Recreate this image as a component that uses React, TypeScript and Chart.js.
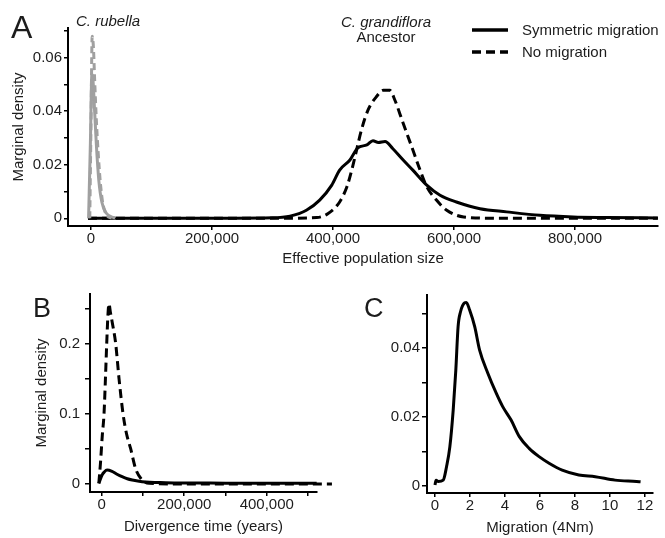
import React, { useEffect, useRef } from 'react';
import { Chart, registerables } from 'chart.js';

Chart.register(...registerables);

const FONT = '"Liberation Sans", Arial, Helvetica, sans-serif';
const INK = '#1c1c1c';
const GRAY = '#a0a0a0';

// ---------- Panel A : effective population size ----------
const rubellaSymX = [-4000, -1000, 1500, 3500, 6000, 9000, 13000, 18000, 25000, 40000];
const rubellaSymY = [0, 0.028, 0.054, 0.051, 0.04, 0.027, 0.014, 0.006, 0.002, 0];
const rubellaNoMigX = [-2000, 0, 2000, 4000, 6000, 9000, 12000, 16000, 20000, 26000, 34000];
const rubellaNoMigY = [0, 0.035, 0.068, 0.064, 0.052, 0.036, 0.024, 0.012, 0.005, 0.0012, 0];
const ancSymX = [-5000, 150000, 300000, 329000, 356000, 378000, 398000, 411000, 428000, 441000, 456000, 466000, 475000, 486000, 499000, 516000, 532000, 555000, 577000, 604000, 643000, 687000, 742000, 797000, 852000, 937000];
const ancSymY = [0, 0, 0.0002, 0.0008, 0.003, 0.0068, 0.0124, 0.018, 0.0218, 0.0263, 0.0274, 0.029, 0.0283, 0.0287, 0.026, 0.0218, 0.018, 0.0124, 0.0086, 0.0061, 0.0036, 0.0024, 0.0011, 0.0005, 0.0003, 0.0001];
const ancNoMigX = [-5000, 150000, 300000, 373000, 392000, 411000, 423000, 431000, 439000, 447000, 458000, 472000, 483000, 494000, 502000, 516000, 530000, 544000, 555000, 571000, 588000, 616000, 673000, 937000];
const ancNoMigY = [0, 0, 0, 0.0003, 0.0018, 0.0061, 0.0118, 0.018, 0.0255, 0.033, 0.0405, 0.0455, 0.0478, 0.0478, 0.0443, 0.0355, 0.0268, 0.018, 0.0118, 0.0068, 0.003, 0.0005, 0, 0];
const aXTicks = [0, 200000, 400000, 600000, 800000];
const aXLabels = ['0', '200,000', '400,000', '600,000', '800,000'];
const aYTicks = [0, 0.01, 0.02, 0.03, 0.04, 0.05, 0.06, 0.07];
const aYLabels = ['0', '', '0.02', '', '0.04', '', '0.06', ''];
const legendLabels = ['Symmetric migration', 'No migration'];

// ---------- Panel B : divergence time ----------
const divSymX = [-7000, 800, 6000, 13000, 25000, 37000, 49500, 62000, 74000, 98000, 155000, 300000, 521000];
const divSymY = [0.001, 0.0128, 0.017, 0.0199, 0.018, 0.014, 0.0104, 0.0075, 0.0057, 0.0033, 0.002, 0.0013, 0.001];
const divNoMigX = [-7000, -3000, 1500, 5600, 9000, 12100, 15000, 17700, 21000, 25000, 33900, 42000, 51700, 60000, 70300, 82000, 95000, 115000, 200000, 400000, 558000];
const divNoMigY = [0.001, 0.03, 0.07, 0.1, 0.15, 0.2, 0.24, 0.257, 0.245, 0.232, 0.2, 0.15, 0.1, 0.072, 0.05, 0.022, 0.008, 0.001, 0, 0, 0];
const bXTicks = [0, 100000, 200000, 300000, 400000, 500000];
const bXLabels = ['0', '', '200,000', '', '400,000', ''];
const bYTicks = [0, 0.05, 0.1, 0.15, 0.2, 0.25];
const bYLabels = ['0', '', '0.1', '', '0.2', ''];

// ---------- Panel C : migration ----------
const migX = [0, 0.06, 0.19, 0.47, 0.66, 0.85, 1.04, 1.19, 1.32, 1.46, 1.7, 1.79, 1.98, 2.27, 2.55, 3.02, 3.5, 3.87, 4.35, 4.82, 5.38, 5.95, 6.52, 7.27, 8.22, 9.16, 10.29, 11.52, 11.75];
const migY = [0.0003, 0.0017, 0.0013, 0.0017, 0.0056, 0.0114, 0.022, 0.0336, 0.0462, 0.0505, 0.0531, 0.0532, 0.051, 0.0462, 0.0394, 0.0327, 0.0269, 0.023, 0.0191, 0.0143, 0.0109, 0.0085, 0.0066, 0.0046, 0.0032, 0.0027, 0.0017, 0.0013, 0.0012];
const cXTicks = [0, 2, 4, 6, 8, 10, 12];
const cXLabels = ['0', '2', '4', '6', '8', '10', '12'];
const cYTicks = [0, 0.01, 0.02, 0.03, 0.04, 0.05];
const cYLabels = ['0', '', '0.02', '', '0.04', ''];

const DASH = [9, 5];

function series(xs: number[], ys: number[], color: string, dash: number[], extra: any = {}) {
  return {
    data: xs.map((x, i) => ({ x, y: ys[i] })),
    borderColor: color,
    backgroundColor: color,
    borderWidth: 3,
    borderDash: dash,
    borderCapStyle: 'butt',
    borderJoinStyle: 'round',
    pointRadius: 0,
    pointHoverRadius: 0,
    fill: false,
    cubicInterpolationMode: 'monotone',
    ...extra,
  };
}

type AxisSpec = {
  axis: 'x' | 'y';
  min: number;
  max: number;
  ticks: number[];
  labels: string[];
  size: number;
  tickLength: number;
  tickPad: number;
  title?: string;
  titlePad?: any;
};

function axis(s: AxisSpec) {
  return {
    type: 'linear',
    position: s.axis === 'x' ? 'bottom' : 'left',
    min: s.min,
    max: s.max,
    afterBuildTicks: (sc: any) => {
      sc.ticks = s.ticks.map((v) => ({ value: v }));
    },
    afterFit: (sc: any) => {
      if (s.axis === 'x') sc.height = s.size;
      else sc.width = s.size;
    },
    grid: {
      display: true,
      drawOnChartArea: false,
      drawTicks: true,
      tickLength: s.tickLength,
      tickWidth: 1.5,
      tickColor: '#000',
      color: '#000',
      lineWidth: 1.5,
    },
    border: { display: true, color: '#000', width: 2 },
    ticks: {
      autoSkip: false,
      maxRotation: 0,
      minRotation: 0,
      padding: s.tickPad,
      color: INK,
      font: { family: FONT, size: 15, lineHeight: 1.2 },
      callback: (_v: any, i: number) => s.labels[i] ?? '',
    },
    title: s.title
      ? { display: true, text: s.title, color: INK, font: { family: FONT, size: 15, lineHeight: 1.2 }, padding: s.titlePad }
      : { display: false },
  };
}

function baseOptions(padding: any, x: any, y: any) {
  return {
    responsive: false,
    maintainAspectRatio: false,
    animation: false,
    devicePixelRatio: 1,
    layout: { padding },
    plugins: { legend: { display: false }, tooltip: { enabled: false } },
    events: [],
    scales: { x, y },
  };
}

const annotA = {
  id: 'annotA',
  afterDraw(chart: any) {
    const ctx = chart.ctx;
    ctx.save();
    ctx.fillStyle = INK;
    ctx.textBaseline = 'alphabetic';
    ctx.textAlign = 'left';
    ctx.font = `32px ${FONT}`;
    ctx.fillText('A', 11, 38);
    ctx.font = `italic 15px ${FONT}`;
    ctx.fillText('C. rubella', 76, 25.5);
    ctx.textAlign = 'center';
    ctx.fillText('C. grandiflora', 386, 26.5);
    ctx.font = `15px ${FONT}`;
    ctx.fillText('Ancestor', 386, 42);
    // legend
    const ds = chart.data.datasets.filter((d: any) => d.legendIndex !== undefined);
    ds.sort((a: any, b: any) => a.legendIndex - b.legendIndex);
    ds.forEach((d: any, i: number) => {
      const yy = 30 + i * 22;
      ctx.beginPath();
      ctx.lineWidth = 3.5;
      ctx.strokeStyle = d.borderColor;
      ctx.setLineDash(d.borderDash || []);
      ctx.moveTo(472, yy);
      ctx.lineTo(508, yy);
      ctx.stroke();
      ctx.setLineDash([]);
      ctx.textAlign = 'left';
      ctx.textBaseline = 'middle';
      ctx.fillStyle = INK;
      ctx.font = `15px ${FONT}`;
      ctx.fillText(legendLabels[d.legendIndex], 522, yy + 0.5);
    });
    ctx.restore();
  },
};

function letterPlugin(letter: string, x: number, y: number) {
  return {
    id: 'letter' + letter,
    afterDraw(chart: any) {
      const ctx = chart.ctx;
      ctx.save();
      ctx.fillStyle = INK;
      ctx.textBaseline = 'alphabetic';
      ctx.textAlign = 'left';
      ctx.font = `27px ${FONT}`;
      ctx.fillText(letter, x, y);
      ctx.restore();
    },
  };
}

function configA(): any {
  return {
    type: 'line',
    data: {
      datasets: [
        series(rubellaNoMigX, rubellaNoMigY, GRAY, [7, 4]),
        series(rubellaSymX, rubellaSymY, GRAY, []),
        series(ancSymX, ancSymY, '#000', [], { legendIndex: 0 }),
        series(ancNoMigX, ancNoMigY, '#000', DASH, { legendIndex: 1 }),
      ],
    },
    options: baseOptions(
      { left: 0, right: 7, top: 28, bottom: 0 },
      axis({ axis: 'x', min: -38000, max: 937200, ticks: aXTicks, labels: aXLabels, size: 54, tickLength: 4, tickPad: 0, title: 'Effective population size', titlePad: { top: 0, bottom: 12 } }),
      axis({ axis: 'y', min: -0.00288, max: 0.0711, ticks: aYTicks, labels: aYLabels, size: 68, tickLength: 4, tickPad: 2, title: 'Marginal density', titlePad: { top: 10, bottom: 0 } })
    ),
    plugins: [annotA],
  };
}

function configB(): any {
  return {
    type: 'line',
    data: {
      datasets: [
        series(divSymX, divSymY, '#000', []),
        series(divNoMigX, divNoMigY, '#000', DASH, { clip: false }),
      ],
    },
    options: baseOptions(
      { left: 0, right: 23, top: 13, bottom: 0 },
      axis({ axis: 'x', min: -28400, max: 521800, ticks: bXTicks, labels: bXLabels, size: 46, tickLength: 4, tickPad: 0, title: 'Divergence time (years)', titlePad: { top: 0, bottom: 2 } }),
      axis({ axis: 'y', min: -0.01135, max: 0.2709, ticks: bYTicks, labels: bYLabels, size: 90, tickLength: 5, tickPad: 5, title: 'Marginal density', titlePad: { top: 32.5, bottom: 0 } })
    ),
    plugins: [letterPlugin('B', 33, 37)],
  };
}

function configC(): any {
  return {
    type: 'line',
    data: {
      datasets: [series(migX, migY, '#000', [])],
    },
    options: baseOptions(
      { left: 0, right: 12, top: 15, bottom: 0 },
      axis({ axis: 'x', min: -0.457, max: 12.46, ticks: cXTicks, labels: cXLabels, size: 45, tickLength: 4, tickPad: 0, title: 'Migration (4Nm)', titlePad: { top: 0, bottom: 1 } }),
      axis({ axis: 'y', min: -0.00203, max: 0.05536, ticks: cYTicks, labels: cYLabels, size: 87, tickLength: 5, tickPad: 2 })
    ),
    plugins: [letterPlugin('C', 24, 37)],
  };
}

function ChartCanvas(props: { make: () => any; left: number; top: number; width: number; height: number }) {
  const ref = useRef<HTMLCanvasElement | null>(null);
  useEffect(() => {
    if (!ref.current) return;
    const chart = new Chart(ref.current, props.make());
    return () => chart.destroy();
  }, []);
  return (
    <canvas
      ref={ref}
      width={props.width}
      height={props.height}
      style={{ position: 'absolute', left: props.left, top: props.top, width: props.width, height: props.height }}
    />
  );
}

export default function App() {
  return (
    <div style={{ position: 'absolute', left: 0, top: 0, width: 665, height: 538, background: '#fff', overflow: 'hidden' }}>
      <ChartCanvas make={configA} left={0} top={0} width={665} height={280} />
      <ChartCanvas make={configB} left={0} top={280} width={340} height={258} />
      <ChartCanvas make={configC} left={340} top={280} width={325} height={258} />
    </div>
  );
}
